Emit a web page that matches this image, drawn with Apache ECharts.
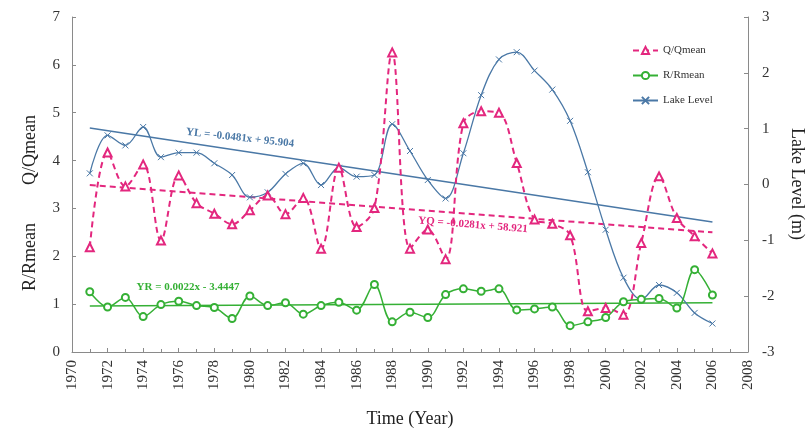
<!DOCTYPE html>
<html><head><meta charset="utf-8">
<script src="https://cdn.jsdelivr.net/npm/echarts@6/dist/echarts.min.js"></script>
<style>html,body{margin:0;padding:0;background:#fff}#c{width:809px;height:435px}</style>
</head><body><div id="c"></div>
<script>
const years = [1971,1972,1973,1974,1975,1976,1977,1978,1979,1980,1981,1982,1983,1984,1985,1986,1987,1988,1989,1990,1991,1992,1993,1994,1995,1996,1997,1998,1999,2000,2001,2002,2003,2004,2005,2006];
const qRatio = [2.19,4.17,3.46,3.92,2.33,3.69,3.11,2.89,2.67,2.96,3.27,2.88,3.22,2.16,3.85,2.61,3.01,6.26,2.16,2.56,1.94,4.78,5.03,5.00,3.95,2.77,2.68,2.44,0.85,0.92,0.78,2.28,3.67,2.80,2.42,2.06];
const rRatio = [1.26,0.94,1.14,0.74,0.99,1.06,0.97,0.93,0.70,1.17,0.97,1.03,0.79,0.97,1.04,0.875,1.41,0.63,0.83,0.72,1.20,1.32,1.27,1.32,0.88,0.90,0.94,0.55,0.63,0.72,1.05,1.10,1.12,0.92,1.72,1.19];
const lakeLevel = [0.20,0.88,0.70,1.03,0.49,0.57,0.57,0.38,0.17,-0.23,-0.14,0.19,0.38,-0.01,0.30,0.14,0.17,1.08,0.60,0.08,-0.25,0.56,1.60,2.24,2.37,2.04,1.70,1.14,0.22,-0.81,-1.67,-2.06,-1.80,-1.94,-2.30,-2.49];
// trend line endpoints
const trendYears = [1971, 2006];
const trendQ = [3.49, 2.50];
const trendR = [0.96, 1.03];
const trendL = [1.01, -0.67];
const xTicks = {min:1970, max:2008, interval:2};
const leftTicks = {min:0, max:7, interval:1};
const rightTicks = {min:-3, max:3, interval:1};

const cQ = '#e3277e', cR = '#35b035', cL = '#4a78a6';
const serif = '"Liberation Serif","DejaVu Serif",serif';
const pair = (xs, ys) => xs.map((x,i)=>[x, ys[i]]);

const chart = echarts.init(document.getElementById('c'));
const axisCommon = {
  axisLine:{show:true, lineStyle:{color:'#8a8a8a', width:1}},
  axisTick:{show:true, inside:true, length:4, lineStyle:{color:'#8a8a8a'}},
  splitLine:{show:false},
  axisLabel:{color:'#333', fontFamily:serif, fontSize:15}
};
chart.setOption({
  animation:false,
  backgroundColor:'#fff',
  grid:{left:72, right:61, top:17, bottom:83},
  legend:{
    orient:'vertical', left:627, top:40, itemWidth:25, itemHeight:9, itemGap:14,
    data:['Q/Qmean','R/Rmean','Lake Level'],
    textStyle:{fontFamily:serif, fontSize:11, color:'#333'}
  },
  xAxis:{type:'value', min:xTicks.min, max:xTicks.max, interval:xTicks.interval,
    ...axisCommon,
    minorTick:{show:true, splitNumber:2, length:3, lineStyle:{color:'#8a8a8a'}},
    axisTick:{show:true, inside:true, length:4, lineStyle:{color:'#8a8a8a'}},
    axisLabel:{color:'#333', fontFamily:serif, fontSize:15, rotate:90, margin:8, formatter:v=>String(v)}
  },
  yAxis:[
    {type:'value', min:leftTicks.min, max:leftTicks.max, interval:leftTicks.interval, ...axisCommon,
      axisLabel:{color:'#333', fontFamily:serif, fontSize:15, margin:12}},
    {type:'value', position:'right', min:rightTicks.min, max:rightTicks.max, interval:rightTicks.interval, ...axisCommon,
      axisLabel:{color:'#333', fontFamily:serif, fontSize:15, margin:14}}
  ],
  series:[
    {name:'Trend L', type:'line', yAxisIndex:1, data:pair(trendYears,trendL), symbol:'none',
      lineStyle:{color:cL, width:1.5}, silent:true, z:1},
    {name:'Trend Q', type:'line', data:pair(trendYears,trendQ), symbol:'none',
      lineStyle:{color:cQ, width:2, type:[6,4]}, silent:true, z:1},
    {name:'Trend R', type:'line', data:pair(trendYears,trendR), symbol:'none',
      lineStyle:{color:cR, width:1.5}, silent:true, z:1},
    {name:'Lake Level', type:'line', yAxisIndex:1, data:pair(years,lakeLevel), smooth:0.35,
      symbol:'path://M0,0L10,10M10,0L0,10', symbolSize:6, color:cL,
      itemStyle:{color:cL, borderColor:cL, borderWidth:1},
      lineStyle:{color:cL, width:1.3}, z:3},
    {name:'Q/Qmean', type:'line', data:pair(years,qRatio), smooth:0.35,
      symbol:'emptyTriangle', symbolSize:8, color:cQ,
      itemStyle:{color:cQ, borderColor:cQ, borderWidth:1.6},
      lineStyle:{color:cQ, width:2, type:[6,4]}, z:4},
    {name:'R/Rmean', type:'line', data:pair(years,rRatio), smooth:0.35,
      symbol:'emptyCircle', symbolSize:7, color:cR,
      itemStyle:{color:cR, borderColor:cR, borderWidth:1.5},
      lineStyle:{color:cR, width:1.5}, z:4}
  ],
  graphic:[
    {type:'text', x:30, y:150, rotation:Math.PI/2, style:{text:'Q/Qmean', fill:'#222', font:'18px '+serif, align:'center', verticalAlign:'middle'}},
    {type:'text', x:30, y:257, rotation:Math.PI/2, style:{text:'R/Rmean', fill:'#222', font:'18px '+serif, align:'center', verticalAlign:'middle'}},
    {type:'text', x:797, y:184, rotation:-Math.PI/2, style:{text:'Lake Level (m)', fill:'#222', font:'18px '+serif, align:'center', verticalAlign:'middle'}},
    {type:'text', x:410, y:419, style:{text:'Time (Year)', fill:'#222', font:'18px '+serif, align:'center', verticalAlign:'middle'}},
    {type:'text', x:240, y:138, rotation:-0.11, style:{text:'YL = -0.0481x + 95.904', fill:cL, font:'bold 11px '+serif, align:'center', verticalAlign:'middle'}},
    {type:'text', x:473, y:225, rotation:-0.08, style:{text:'YQ = -0.0281x + 58.921', fill:cQ, font:'bold 11px '+serif, align:'center', verticalAlign:'middle'}},
    {type:'text', x:188, y:287, style:{text:'YR = 0.0022x - 3.4447', fill:cR, font:'bold 11px '+serif, align:'center', verticalAlign:'middle'}}
  ]
});
</script></body></html>
